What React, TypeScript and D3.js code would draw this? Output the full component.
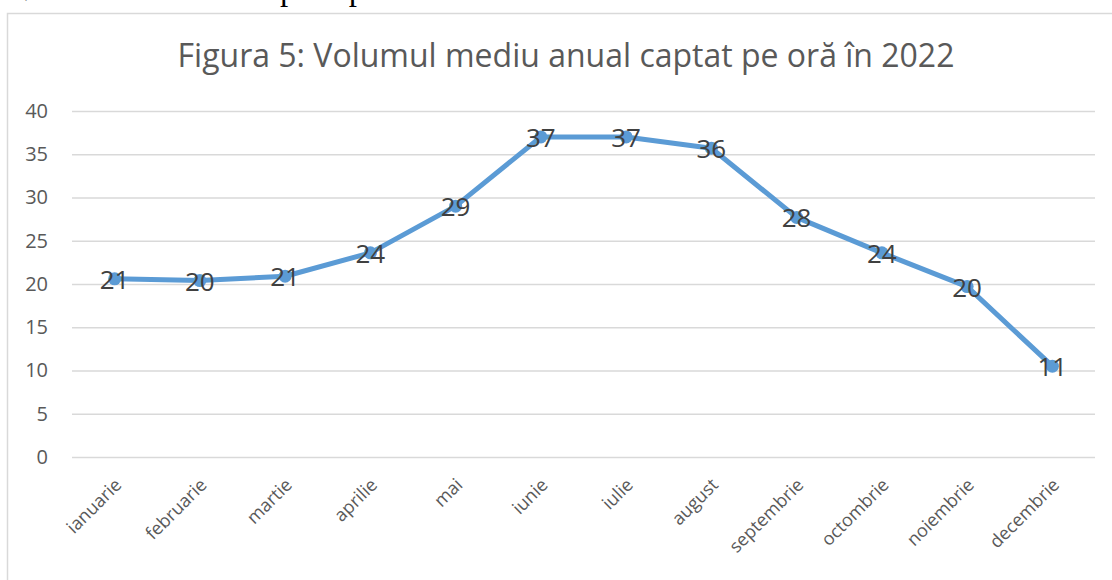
import * as d3 from 'd3'
import { useRef, useEffect } from 'react'

const months = [
  'ianuarie',
  'februarie',
  'martie',
  'aprilie',
  'mai',
  'iunie',
  'iulie',
  'august',
  'septembrie',
  'octombrie',
  'noiembrie',
  'decembrie'
]
const volumes = [20.6, 20.4, 20.9, 23.6, 29.0, 37.0, 37.0, 35.7, 27.7, 23.6, 19.7, 10.5]
const yTicks = [0, 5, 10, 15, 20, 25, 30, 35, 40]
const title = 'Figura 5: Volumul mediu anual captat pe oră în 2022'
const captionAbove = 'Volumul mediu de apă captat în 2022 orar'

const LineChart = () => {
  const d3Chart = useRef<SVGSVGElement>(null)

  useEffect(() => {
    drawChart()
  }, [])

  const drawChart = () => {
    const width = 1112
    const height = 580
    const margin = { top: 111, right: 17, bottom: 123, left: 72 }
    const font = 'Open Sans, sans-serif'

    const svg = d3.select(d3Chart.current).attr('width', width).attr('height', height)
    svg.selectAll('*').remove()

    // document text cut off above the chart frame
    svg
      .append('text')
      .attr('x', 14)
      .attr('y', 0)
      .attr('font-family', 'Liberation Serif, serif')
      .attr('font-size', 33)
      .attr('fill', '#000')
      .text(captionAbove)

    // chart frame
    svg
      .append('rect')
      .attr('x', 7.5)
      .attr('y', 13.5)
      .attr('width', width + 20)
      .attr('height', height + 20)
      .attr('fill', '#fff')
      .attr('stroke', '#d9d9d9')
      .attr('stroke-width', 1.5)

    svg
      .append('text')
      .attr('x', 566)
      .attr('y', 67)
      .attr('text-anchor', 'middle')
      .attr('font-family', font)
      .attr('font-size', 32)
      .attr('fill', '#595959')
      .text(title)

    const x = d3
      .scaleBand()
      .domain(months)
      .range([margin.left, width - margin.right])

    const y = d3
      .scaleLinear()
      .domain([0, 40])
      .range([height - margin.bottom, margin.top])

    // gridlines + y labels
    const yAxis = svg
      .append('g')
      .attr('transform', 'translate(' + margin.left + ',0)')
      .call(
        d3
          .axisLeft(y)
          .tickValues(yTicks)
          .tickSize(-(width - margin.left - margin.right))
          .tickPadding(24)
      )
    yAxis.select('.domain').remove()
    yAxis.selectAll('line').attr('stroke', '#d9d9d9').attr('stroke-width', 1.5)
    yAxis
      .selectAll('text')
      .attr('font-family', font)
      .attr('font-size', 20)
      .attr('fill', '#595959')

    // x labels, rotated
    const xAxis = svg
      .append('g')
      .attr('transform', 'translate(0,' + (height - margin.bottom) + ')')
      .call(d3.axisBottom(x).tickSize(0).tickPadding(0))
    xAxis.select('.domain').remove()
    xAxis
      .selectAll('text')
      .attr('font-family', font)
      .attr('font-size', 18)
      .attr('fill', '#595959')
      .attr('text-anchor', 'end')
      .attr('dy', 0)
      .attr('transform', 'translate(8,29) rotate(-45)')

    const cx = (d: string) => (x(d) as number) + x.bandwidth() / 2

    const line = d3
      .line<number>()
      .x((d, i) => cx(months[i]))
      .y((d) => y(d))

    svg
      .append('path')
      .datum(volumes)
      .attr('d', line)
      .attr('fill', 'none')
      .attr('stroke', '#5b9bd5')
      .attr('stroke-width', 5)
      .attr('stroke-linejoin', 'round')
      .attr('stroke-linecap', 'round')

    svg
      .append('g')
      .selectAll('circle')
      .data(volumes)
      .enter()
      .append('circle')
      .attr('cx', (d, i) => cx(months[i]))
      .attr('cy', (d) => y(d))
      .attr('r', 6.5)
      .attr('fill', '#5b9bd5')

    svg
      .append('g')
      .selectAll('text')
      .data(volumes)
      .enter()
      .append('text')
      .attr('x', (d, i) => cx(months[i]))
      .attr('y', (d) => y(d) + 10)
      .attr('text-anchor', 'middle')
      .attr('font-family', font)
      .attr('font-size', 26)
      .attr('fill', '#404040')
      .text((d) => Math.round(d))
  }

  return (
    <div style={{ position: 'absolute', left: 0, top: 0 }}>
      <svg ref={d3Chart} style={{ display: 'block' }}></svg>
    </div>
  )
}

export default function App() {
  return <LineChart />
}
